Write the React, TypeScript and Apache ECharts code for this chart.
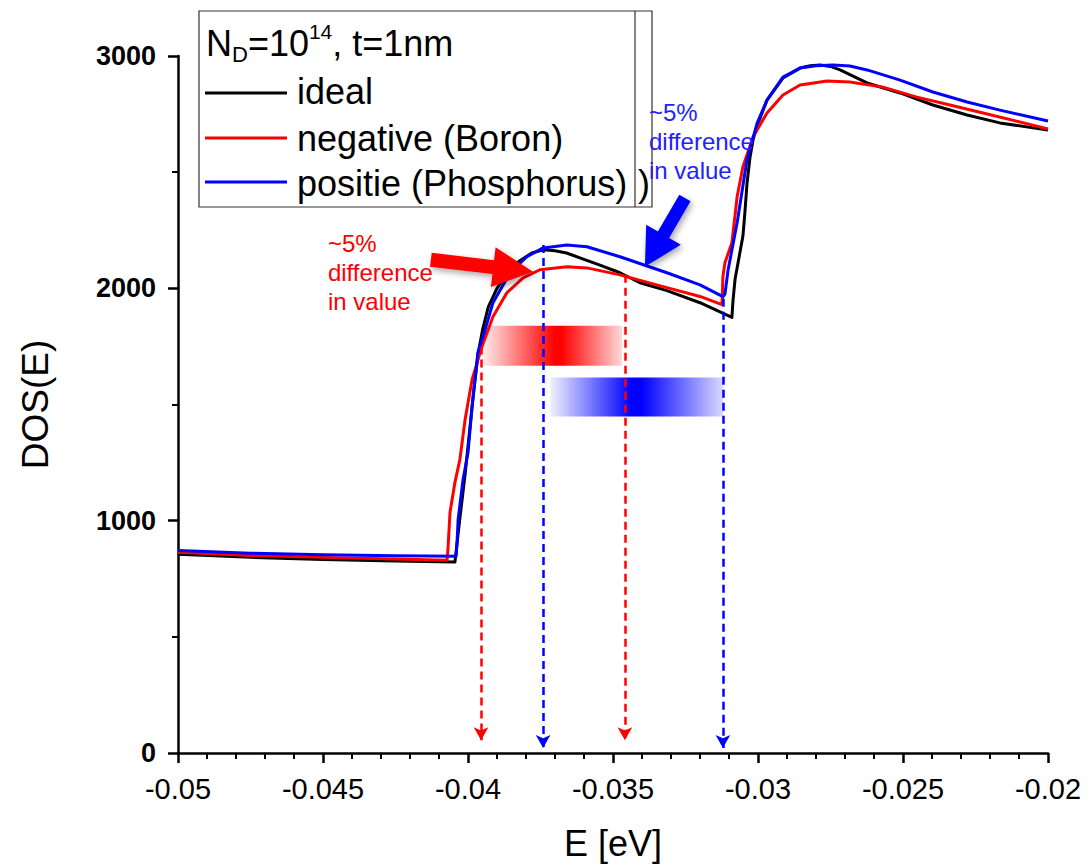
import React, { useEffect, useRef } from "react";
import * as echarts from "echarts";

const FONT = '"Liberation Sans", Arial, Helvetica, sans-serif';

// ---- data ----
const seriesNames = ["ideal", "negative (Boron)", "positie (Phosphorus)"];
const seriesColors = ["#000000", "#ff0000", "#0000ff"];

const idealE = [-0.05, -0.0475, -0.045, -0.0425, -0.04045, -0.04038, -0.04028, -0.0401, -0.03995, -0.0398, -0.03965, -0.0395, -0.0393, -0.039, -0.0386, -0.0382, -0.0378, -0.0374, -0.037, -0.0366, -0.036, -0.03545, -0.03476, -0.03407, -0.03314, -0.032, -0.0309, -0.03086, -0.03079, -0.03052, -0.03045, -0.03038, -0.03028, -0.03017, -0.03003, -0.02969, -0.02914, -0.02855, -0.0282, -0.02786, -0.0275, -0.02717, -0.02624, -0.0251, -0.02397, -0.02279, -0.02166, -0.02];
const idealDOS = [855, 842, 833, 826, 822, 900, 1010, 1200, 1380, 1560, 1720, 1820, 1920, 2000, 2075, 2120, 2152, 2166, 2162, 2152, 2125, 2100, 2067, 2024, 1990, 1938, 1875, 1950, 2040, 2225, 2330, 2450, 2560, 2640, 2700, 2810, 2905, 2948, 2958, 2961, 2955, 2940, 2884, 2841, 2789, 2746, 2712, 2681];

const boronE = [-0.05, -0.0475, -0.045, -0.0425, -0.04072, -0.04069, -0.04062, -0.04045, -0.04028, -0.0401, -0.03986, -0.03952, -0.03914, -0.03866, -0.0381, -0.03752, -0.03659, -0.0359, -0.03476, -0.03314, -0.032, -0.03124, -0.03121, -0.03114, -0.0309, -0.03072, -0.03052, -0.03017, -0.02969, -0.02914, -0.02855, -0.02762, -0.02683, -0.02569, -0.02452, -0.02338, -0.02224, -0.02];
const boronDOS = [864, 850, 842, 835, 830, 880, 1036, 1165, 1263, 1435, 1607, 1749, 1878, 1981, 2045, 2080, 2093, 2088, 2058, 2003, 1965, 1930, 2050, 2110, 2196, 2394, 2523, 2651, 2755, 2832, 2875, 2892, 2888, 2866, 2823, 2789, 2755, 2686];

const phosE = [-0.05, -0.0475, -0.045, -0.0425, -0.04041, -0.04038, -0.04034, -0.04017, -0.04, -0.03986, -0.03966, -0.03941, -0.03914, -0.03855, -0.03797, -0.03741, -0.03659, -0.0359, -0.03476, -0.03314, -0.032, -0.03121, -0.03114, -0.03103, -0.03072, -0.03038, -0.03003, -0.02969, -0.02914, -0.02855, -0.028, -0.02741, -0.02683, -0.02624, -0.0251, -0.02397, -0.02279, -0.02166, -0.02];
const phosDOS = [872, 860, 853, 849, 847, 900, 1006, 1177, 1293, 1491, 1723, 1822, 1938, 2067, 2136, 2174, 2187, 2179, 2136, 2067, 2015, 1964, 1975, 2080, 2282, 2553, 2711, 2810, 2909, 2948, 2958, 2961, 2957, 2940, 2896, 2845, 2802, 2767, 2720];

// annotation guides (dashed arrows down to the axis)
const redGuideE = [-0.03955, -0.03459];
const redGuideTop = [1750, 2058];
const redGuideEnd = 55;
const blueGuideE = [-0.03741, -0.03121];
const blueGuideTop = [2187, 1955];
const blueGuideEnd = 22;

// gradient bands
const redBandE = [-0.03952, -0.03469];
const redBandDOS = [1667, 1839];
const blueBandE = [-0.03717, -0.03121];
const blueBandDOS = [1448, 1616];

// big arrows: [E, DOS] of tail and tip
const redArrowTail = [-0.04128, 2123];
const redArrowTip = [-0.03776, 2071];
const blueArrowTail = [-0.03252, 2389];
const blueArrowTip = [-0.0339, 2093];

// annotation texts
const noteText = "~5%\ndifference\nin value";
const redNotePos = [-0.04483, 2067];
const blueNotePos = [-0.03376, 2630];

// axis ticks
const xTicks = { min: -0.05, max: -0.02, interval: 0.005 };
const yTicks = { min: 0, max: 3000, interval: 1000 };

function arrowPolygon(tail: number[], tip: number[], shaftHalf: number, headLen: number, headHalf: number) {
  const dx = tip[0] - tail[0];
  const dy = tip[1] - tail[1];
  const L = Math.hypot(dx, dy);
  const ux = dx / L, uy = dy / L;
  const nx = -uy, ny = ux;
  const bx = tip[0] - ux * headLen, by = tip[1] - uy * headLen;
  return [
    [tail[0] + nx * shaftHalf, tail[1] + ny * shaftHalf],
    [bx + nx * shaftHalf, by + ny * shaftHalf],
    [bx + nx * headHalf, by + ny * headHalf],
    [tip[0], tip[1]],
    [bx - nx * headHalf, by - ny * headHalf],
    [bx - nx * shaftHalf, by - ny * shaftHalf],
    [tail[0] - nx * shaftHalf, tail[1] - ny * shaftHalf],
  ];
}

export default function App() {
  const ref = useRef<HTMLDivElement>(null);

  useEffect(() => {
    document.body.style.margin = "0";
    const chart = echarts.init(ref.current!, null, { renderer: "svg" });
    const pair = (xs: number[], ys: number[]) => xs.map((x, i) => [x, ys[i]]);

    const curveData = [pair(idealE, idealDOS), pair(boronE, boronDOS), pair(phosE, phosDOS)];

    const guideLine = (e: number, top: number, end: number, color: string) => [
      { coord: [e, top], lineStyle: { color, type: [8, 5], width: 2.5 } },
      { coord: [e, end] },
    ];

    const band = (xs: number[], ys: number[], r: number, g: number, b: number, peakA: number, peakB: number, leftA: number, rightA: number) => [
      {
        coord: [xs[0], ys[1]],
        itemStyle: {
          opacity: 1,
          color: new echarts.graphic.LinearGradient(0, 0, 1, 0, [
            { offset: 0, color: `rgba(${r},${g},${b},${leftA})` },
            { offset: peakA, color: `rgba(${r},${g},${b},1)` },
            { offset: peakB, color: `rgba(${r},${g},${b},1)` },
            { offset: 1, color: `rgba(${r},${g},${b},${rightA})` },
          ]),
        },
      },
      { coord: [xs[1], ys[0]] },
    ];

    const option: any = {
      animation: false,
      grid: { left: 178, right: 41, top: 56, bottom: 112, containLabel: false },
      xAxis: {
        type: "value",
        min: xTicks.min,
        max: xTicks.max,
        interval: xTicks.interval,
        name: "E [eV]",
        nameLocation: "middle",
        nameGap: 72,
        nameTextStyle: { fontFamily: FONT, fontSize: 36, color: "#000" },
        axisLine: { show: true, onZero: false, lineStyle: { color: "#000", width: 2.5 } },
        axisTick: { show: true, length: 10, lineStyle: { color: "#000", width: 2.5 } },
        minorTick: { show: true, splitNumber: 5, length: 6, lineStyle: { color: "#000", width: 2 } },
        axisLabel: {
          fontFamily: FONT,
          fontSize: 29,
          color: "#000",
          margin: 21,
          formatter: (v: number) => String(Number(v.toFixed(3))),
        },
        splitLine: { show: false },
      },
      yAxis: {
        type: "value",
        min: yTicks.min,
        max: yTicks.max,
        interval: yTicks.interval,
        name: "DOS(E)",
        nameLocation: "middle",
        nameGap: 124,
        nameTextStyle: { fontFamily: FONT, fontSize: 37, color: "#000" },
        axisLine: { show: true, onZero: false, lineStyle: { color: "#000", width: 2.5 } },
        axisTick: { show: true, length: 10, lineStyle: { color: "#000", width: 2.5 } },
        minorTick: { show: true, splitNumber: 2, length: 6, lineStyle: { color: "#000", width: 2 } },
        axisLabel: {
          fontFamily: FONT,
          fontSize: 27,
          fontWeight: "bold",
          color: "#000",
          margin: 22,
          formatter: (v: number) => String(v),
        },
        splitLine: { show: false },
      },
      series: [
        {
          name: "bands",
          type: "line",
          data: [],
          z: 1,
          silent: true,
          markArea: {
            silent: true,
            emphasis: { disabled: true },
            data: [
              band(redBandE, redBandDOS, 255, 0, 0, 0.52, 0.57, 0.06, 0.15),
              band(blueBandE, blueBandDOS, 0, 0, 255, 0.47, 0.53, 0.05, 0.15),
            ],
          },
        },
        ...seriesNames.map((name, i) => ({
          name,
          type: "line",
          data: curveData[i],
          showSymbol: false,
          symbol: "none",
          smooth: false,
          z: 2,
          silent: true,
          lineStyle: { color: seriesColors[i], width: 3, join: "round" },
          itemStyle: { color: seriesColors[i] },
          emphasis: { disabled: true },
        })),
        {
          name: "guides",
          type: "line",
          data: [],
          z: 4,
          silent: true,
          markLine: {
            silent: true,
            symbol: ["none", "arrow"],
            symbolSize: [11, 13],
            label: { show: false },
            emphasis: { disabled: true },
            data: [
              ...redGuideE.map((e, i) => guideLine(e, redGuideTop[i], redGuideEnd, "#ff0000")),
              ...blueGuideE.map((e, i) => guideLine(e, blueGuideTop[i], blueGuideEnd, "#0000ff")),
            ],
          },
        },
      ],
    };

    chart.setOption(option);

    const p = (pt: number[]) => chart.convertToPixel({ gridIndex: 0 }, pt) as number[];

    const shadow = { shadowBlur: 6, shadowColor: "rgba(0,0,0,0.35)", shadowOffsetX: 2, shadowOffsetY: 3 };
    const redNote = p(redNotePos);
    const blueNote = p(blueNotePos);

    const legendY = [93, 138, 182];
    const legendTextY = [91, 138, 183];

    chart.setOption({
      graphic: [
        {
          type: "polygon",
          z: 10,
          silent: true,
          shape: { points: arrowPolygon(p(redArrowTail), p(redArrowTip), 7, 40, 20) },
          style: { fill: "#ff0000", ...shadow },
        },
        {
          type: "polygon",
          z: 10,
          silent: true,
          shape: { points: arrowPolygon(p(blueArrowTail), p(blueArrowTip), 6.5, 37, 20) },
          style: { fill: "#0000ff", ...shadow },
        },
        {
          type: "text",
          z: 10,
          x: redNote[0],
          y: redNote[1],
          silent: true,
          style: {
            text: noteText,
            fill: "#ff0000",
            fontFamily: FONT,
            fontSize: 24,
            lineHeight: 29,
            align: "left",
            verticalAlign: "middle",
          },
        },
        {
          type: "text",
          z: 10,
          x: blueNote[0],
          y: blueNote[1],
          silent: true,
          style: {
            text: noteText,
            fill: "#2222ff",
            fontFamily: FONT,
            fontSize: 24,
            lineHeight: 29,
            align: "left",
            verticalAlign: "middle",
          },
        },
        {
          type: "group",
          z: 20,
          silent: true,
          children: [
            {
              type: "rect",
              shape: { x: 199, y: 11, width: 453, height: 196 },
              style: { fill: "#ffffff", stroke: "#333333", lineWidth: 1.2 },
            },
            {
              type: "line",
              shape: { x1: 635, y1: 11, x2: 635, y2: 207 },
              style: { stroke: "#333333", lineWidth: 1.2 },
            },
            {
              type: "text",
              x: 206,
              y: 43,
              style: {
                text: "{a|N}{b|D}{a|=10}{c|14}{a|, t=1nm}",
                align: "left",
                verticalAlign: "middle",
                rich: {
                  a: { fontFamily: FONT, fontSize: 36, lineHeight: 44, verticalAlign: "middle", fill: "#000" },
                  b: { fontFamily: FONT, fontSize: 22, lineHeight: 22, verticalAlign: "bottom", fill: "#000" },
                  c: { fontFamily: FONT, fontSize: 21, lineHeight: 21, verticalAlign: "top", fill: "#000" },
                },
              },
            },
            ...seriesNames.map((_, i) => ({
              type: "line",
              shape: { x1: 205, y1: legendY[i], x2: 287, y2: legendY[i] },
              style: { stroke: seriesColors[i], lineWidth: 3 },
            })),
            ...seriesNames.map((name, i) => ({
              type: "text",
              x: 297,
              y: legendTextY[i],
              style: {
                text: name,
                fill: "#000",
                fontFamily: FONT,
                fontSize: 36,
                align: "left",
                verticalAlign: "middle",
              },
            })),
            {
              type: "text",
              x: 638,
              y: legendTextY[2],
              style: {
                text: ")",
                fill: "#000",
                fontFamily: FONT,
                fontSize: 36,
                align: "left",
                verticalAlign: "middle",
              },
            },
          ],
        },
      ],
    });

    return () => chart.dispose();
  }, []);

  return <div ref={ref} style={{ width: 1089, height: 866 }} />;
}
